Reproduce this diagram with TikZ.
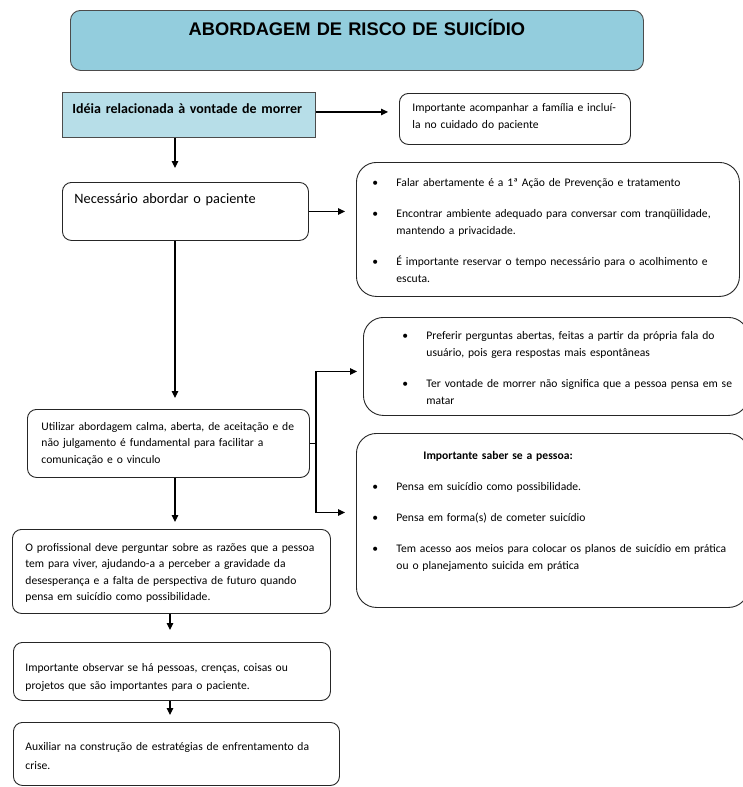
\documentclass[tikz,border=0pt]{standalone}
\usepackage{fontspec}
\setmainfont{Carlito}
\newfontfamily\titlefont{Liberation Sans}
\usetikzlibrary{positioning}
\usetikzlibrary{arrows.meta}
\definecolor{titleblue}{HTML}{93CDDD}
\definecolor{lightblue}{HTML}{B7DEE8}
\newcommand{\bitem}[1]{\hangindent=24pt\hangafter=1\makebox[24pt][l]{\textbullet}#1\par}
\tikzset{
    myboxt/.style = {rectangle, rounded corners=10pt, line width=0.9pt, draw=black!70, fill=titleblue, align=center, anchor=north west, inner ysep=0pt, font=\titlefont\bfseries\fontsize{18.3}{20}\selectfont},
    myboxb/.style = {rectangle, line width=0.9pt, draw=black!70, fill=lightblue, align=left, anchor=north west, inner ysep=0pt, font=\bfseries\fontsize{14}{17}\selectfont},
    myboxr/.style = {rectangle, rounded corners=9pt, line width=0.9pt, draw=black!85, fill=white, align=left, anchor=north west, inner ysep=0pt, font=\fontsize{11.6}{16.5}\selectfont},
    myboxl/.style = {rectangle, rounded corners=20pt, line width=0.9pt, draw=black!85, fill=white, align=left, anchor=north west, inner xsep=16pt, inner ysep=0pt, font=\fontsize{11.6}{17}\selectfont},
    edgea/.style = {-{Triangle[length=7pt,width=6.5pt]}, line width=1.2pt, black},
    edgen/.style = {-, line width=1.2pt, black}
}

\begin{document}
\begin{tikzpicture}[x=1pt, y=-1pt]
  \useasboundingbox (0,0) rectangle (742,787);
  % boxes
  \node[myboxt, inner xsep=4pt, text width=565pt, text height=25pt, text depth=35pt] (tit) at (70,10) {ABORDAGEM DE RISCO DE SUICÍDIO};
  \node[myboxb, inner xsep=10pt, text width=233pt, text height=21pt, text depth=24pt] (b1) at (62,92) {Idéia relacionada à vontade de morrer};
  \node[myboxr, inner xsep=13pt, text width=205pt, text height=18pt, text depth=33pt, font=\fontsize{11.6}{17}\selectfont] (b2) at (399,93) {Importante acompanhar a família e incluí-\\la no cuidado do paciente};
  \node[myboxr, inner xsep=12pt, text width=222pt, text height=21pt, text depth=37pt, font=\fontsize{14.3}{17}\selectfont] (b3) at (62,182) {Necessário abordar o paciente};
  \node[myboxl, text width=351pt, text height=24pt, text depth=110pt] (b4) at (356,162) {\parindent=0pt\parskip=14pt
    \bitem{Falar abertamente é a 1ª Ação de Prevenção e tratamento}
    \bitem{Encontrar ambiente adequado para conversar com tranqüilidade,\newline mantendo a privacidade.}
    \bitem{É importante reservar o tempo necessário para o acolhimento e\newline escuta.}};
  \node[myboxl, text width=353pt, text height=22pt, text depth=76pt] (b6) at (363,317) {\parindent=0pt\parskip=14pt\leftskip=23pt
    \bitem{Preferir perguntas abertas, feitas a partir da própria fala do\newline usuário, pois gera respostas mais espontâneas}
    \bitem{Ter vontade de morrer não significa que a pessoa pensa em se\newline matar}};
  \node[myboxl, text width=360pt, text height=26pt, text depth=148pt] (b7) at (356,433) {\parindent=0pt\parskip=14pt
    \hspace*{51pt}\textbf{Importante saber se a pessoa:}\par
    \bitem{Pensa em suicídio como possibilidade.}
    \bitem{Pensa em forma(s) de cometer suicídio}
    \bitem{Tem acesso aos meios para colocar os planos de suicídio em prática\newline ou o planejamento suicida em prática}};
  \node[myboxr, inner xsep=14pt, text width=254pt, text height=21pt, text depth=47pt] (b5) at (27,409) {Utilizar abordagem calma, aberta, de aceitação e de\\não julgamento é fundamental para facilitar a\\comunicação e o vinculo};
  \node[myboxr, inner xsep=13pt, text width=292pt, text height=22pt, text depth=62pt] (b8) at (12,529) {O profissional deve perguntar sobre as razões que a pessoa\\tem para viver, ajudando-a a perceber a gravidade da\\desesperança e a falta de perspectiva de futuro quando\\pensa em suicídio como possibilidade.};
  \node[myboxr, inner xsep=12pt, text width=293pt, text height=29pt, text depth=29pt, font=\fontsize{11.6}{18}\selectfont] (b9) at (13,642) {Importante observar se há pessoas, crenças, coisas ou\\projetos que são importantes para o paciente.};
  \node[myboxr, inner xsep=12pt, text width=302pt, text height=28pt, text depth=35pt, font=\fontsize{11.6}{19}\selectfont] (b10) at (13,722) {Auxiliar na construção de estratégias de enfrentamento da\\crise.};
  % connectors
  \coordinate (c1) at (175,0);
  \coordinate (c2) at (170,0);
  \coordinate (c3) at (316,0);
  \draw[edgea, shorten >=11pt] ([yshift=3pt]b1.east) -- ([yshift=3pt]b1.east -| b2.west);
  \draw[edgea, shorten >=14pt] (b1.south -| c1) -- (b3.north -| c1);
  \draw[edgea, shorten >=11pt] (b3.east) -- (b3.east -| b4.west);
  \draw[edgea, shorten >=11pt] (b3.south -| c1) -- (b5.north -| c1);
  \draw[edgen] (b5.east) -- (b5.east -| c3);
  \draw[edgea, shorten >=6pt] (b5.east -| c3) |- ([yshift=-5pt]b6.west);
  \draw[edgea, shorten >=11pt] (b5.east -| c3) |- ([yshift=8pt]b7.west);
  \draw[edgea, shorten >=7pt] (b5.south -| c1) -- (b8.north -| c1);
  \draw[edgea, shorten >=12pt] (b8.south -| c2) -- (b9.north -| c2);
  \draw[edgea, shorten >=7pt] (b9.south -| c2) -- (b10.north -| c2);
\end{tikzpicture}
\end{document}
